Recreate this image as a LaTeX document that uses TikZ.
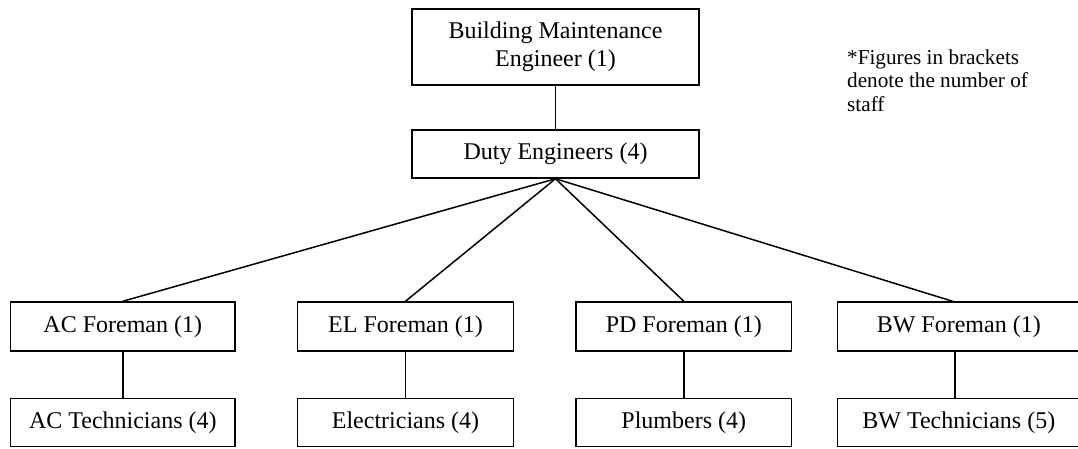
\documentclass[tikz,border=0pt]{standalone}
\usepackage{fontspec}
\setmainfont{Liberation Serif}
\begin{document}
\begin{tikzpicture}[x=1pt,y=-1pt,
  box/.style={draw,line width=1.5pt,inner sep=0pt,align=center,
    font=\fontsize{24}{27.7}\selectfont},
  conn/.style={line width=1.5pt},
  note/.style={inner sep=0pt,align=left,anchor=base west,
    font=\fontsize{21.2}{23.8}\selectfont}]
\useasboundingbox (0,0) rectangle (1078,448);
\node[box,minimum width=287pt,minimum height=76pt] (bme) at (555.5,47) {Building Maintenance\\Engineer (1)};
\node[box,minimum width=287pt,minimum height=48pt] (duty) at (555.5,154) {Duty Engineers (4)};
\node[box,minimum width=224.3pt,minimum height=49pt] (acf) at (122.8,326.5) {AC Foreman (1)};
\node[box,minimum width=215.6pt,minimum height=49pt] (elf) at (405.5,326.5) {EL Foreman (1)};
\node[box,minimum width=215.7pt,minimum height=49pt] (pdf) at (683.8,326.5) {PD Foreman (1)};
\node[box,minimum width=242.3pt,minimum height=49pt] (bwf) at (958.8,326.5) {BW Foreman (1)};
\node[box,minimum width=224.3pt,minimum height=48.4pt] (act) at (122.8,422.5) {AC Technicians (4)};
\node[box,minimum width=215.6pt,minimum height=48.4pt] (elt) at (405.5,422.5) {Electricians (4)};
\node[box,minimum width=215.7pt,minimum height=48.4pt] (pdt) at (683.8,422.5) {Plumbers (4)};
\node[box,minimum width=242.3pt,minimum height=48.4pt] (bwt) at (958.8,422.5) {BW Technicians (5)};
\node[note] (nt) at (847,111.7) {*Figures in brackets\\denote the number of\\staff};
\coordinate (bwin) at (955,302);
\draw[conn] (bme.south) -- (duty.north);
\draw[conn] (duty.south) -- (acf.north);
\draw[conn] (duty.south) -- (elf.north);
\draw[conn] (duty.south) -- (pdf.north);
\draw[conn] (duty.south) -- (bwin);
\draw[conn] (acf.south) -- (act.north);
\draw[conn] (elf.south) -- (elt.north);
\draw[conn] (pdf.south) -- (pdt.north);
\draw[conn] (bwin |- bwf.south) -- (bwin |- bwt.north);
\end{tikzpicture}
\end{document}
